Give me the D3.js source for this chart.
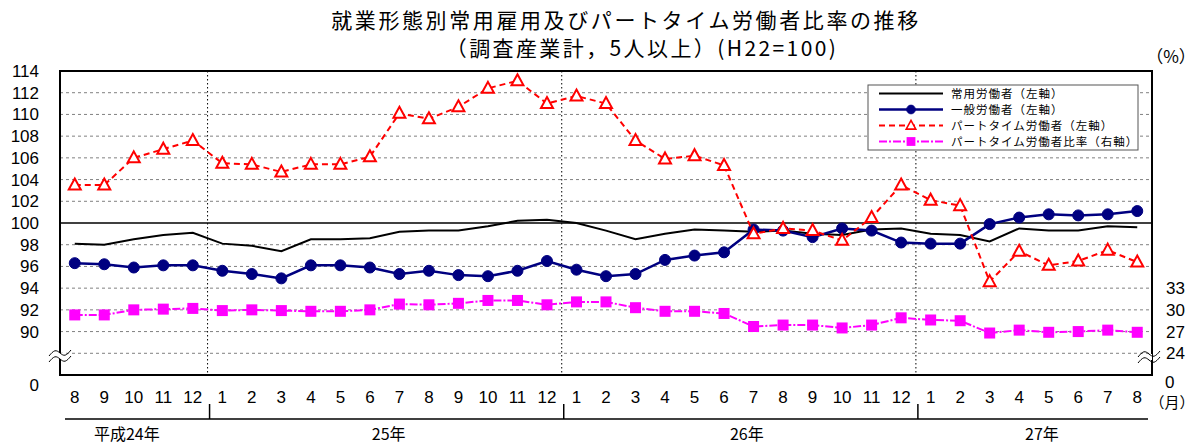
<!DOCTYPE html>
<html>
<head>
<meta charset="utf-8">
<script src="https://cdn.jsdelivr.net/npm/d3@7"></script>
<style>
  body { margin: 0; background: #fff; }
  text { font-family: "Liberation Sans", Arial, sans-serif; }
  .jp { font-family: "Noto Sans CJK JP", sans-serif; }
</style>
</head>
<body>
<div id="chart"></div>
<script>
// month tick labels, Aug 2012 (H24) .. Aug 2015 (H27)
const monthLabels = ["8","9","10","11","12",
  "1","2","3","4","5","6","7","8","9","10","11","12",
  "1","2","3","4","5","6","7","8","9","10","11","12",
  "1","2","3","4","5","6","7","8"];
const yearLabels = ["平成24年", "25年", "26年", "27年"];
const yearStarts = [0, 5, 17, 29];

// left axis (H22=100)
const regular = [98.1, 98.0, 98.5, 98.9, 99.1,
  98.1, 97.9, 97.4, 98.5, 98.5, 98.6, 99.2, 99.3, 99.3, 99.7, 100.2, 100.3,
  100.0, 99.3, 98.5, 99.0, 99.4, 99.3, 99.2, 99.3, 99.0, 98.9, 99.4, 99.5,
  99.0, 98.9, 98.3, 99.5, 99.3, 99.3, 99.7, 99.6];
const general = [96.3, 96.2, 95.9, 96.1, 96.1,
  95.6, 95.3, 94.9, 96.1, 96.1, 95.9, 95.3, 95.6, 95.2, 95.1, 95.6, 96.5,
  95.7, 95.1, 95.3, 96.6, 97.0, 97.3, 99.4, 99.3, 98.7, 99.5, 99.3, 98.2,
  98.1, 98.1, 99.9, 100.5, 100.8, 100.7, 100.8, 101.1];
const partTime = [103.5, 103.5, 106.0, 106.8, 107.6,
  105.5, 105.4, 104.7, 105.4, 105.4, 106.1, 110.1, 109.6, 110.7, 112.4, 113.1, 111.0,
  111.7, 111.0, 107.6, 105.9, 106.2, 105.3, 99.0, 99.5, 99.3, 98.4, 100.5, 103.5,
  102.1, 101.6, 94.6, 97.4, 96.1, 96.5, 97.5, 96.4];
// right axis (%)
const partRatio = [29.3, 29.3, 30.0, 30.1, 30.2,
  29.9, 30.0, 29.9, 29.8, 29.8, 30.0, 30.8, 30.7, 30.9, 31.3, 31.3, 30.7,
  31.1, 31.1, 30.3, 29.8, 29.8, 29.5, 27.7, 27.9, 27.9, 27.5, 27.9, 28.9,
  28.6, 28.5, 26.8, 27.2, 26.9, 27.0, 27.2, 26.9];

const leftTicks = [86, 90, 92, 94, 96, 98, 100, 102, 104, 106, 108, 110, 112, 114];
const rightTicks = [21, 24, 27, 30, 33];
const gridValues = [88, 90, 92, 94, 96, 98, 102, 104, 106, 108, 110, 112];

const W = 1196, H = 446;
const plot = { left: 60, right: 1152, top: 71, bottom: 375 };

const svg = d3.select("#chart").append("svg")
  .attr("width", W).attr("height", H);

const x = d3.scaleBand().domain(d3.range(monthLabels.length))
  .range([plot.left, plot.right]);
const xc = i => x(i) + x.bandwidth() / 2;
const y = d3.scaleLinear().domain([86, 114]).range([plot.bottom, plot.top]);
const y2 = d3.scaleLinear().domain([21, 63]).range([plot.bottom, plot.top]);

// title
svg.append("text").attr("class", "jp")
  .attr("x", 626).attr("y", 28).attr("text-anchor", "middle")
  .style("font-size", "21px").style("letter-spacing", "2.6px")
  .text("就業形態別常用雇用及びパートタイム労働者比率の推移");
svg.append("text").attr("class", "jp")
  .attr("x", 642).attr("y", 56).attr("text-anchor", "middle")
  .style("font-size", "21px").style("letter-spacing", "2.4px")
  .text("（調査産業計，5人以上）(H22=100)");
svg.append("text").attr("class", "jp")
  .attr("x", 1171).attr("y", 63).attr("text-anchor", "middle")
  .style("font-size", "17px").text("（%）");

// gridlines
svg.append("g").selectAll("line").data(gridValues).join("line")
  .attr("x1", plot.left).attr("x2", plot.right)
  .attr("y1", d => y(d)).attr("y2", d => y(d))
  .attr("stroke", "#808080").attr("stroke-dasharray", "3,3");
svg.append("line")
  .attr("x1", plot.left).attr("x2", plot.right)
  .attr("y1", y(100)).attr("y2", y(100))
  .attr("stroke", "#000").attr("stroke-width", 1.3);

// year separators
svg.append("g").selectAll("line").data(yearStarts.slice(1)).join("line")
  .attr("x1", d => x(d)).attr("x2", d => x(d))
  .attr("y1", plot.top).attr("y2", plot.bottom)
  .attr("stroke", "#000").attr("stroke-dasharray", "1.5,2.5");

// frame
svg.append("rect")
  .attr("x", plot.left).attr("y", plot.top)
  .attr("width", plot.right - plot.left).attr("height", plot.bottom - plot.top)
  .attr("fill", "none").attr("stroke", "#000").attr("stroke-width", 2);

// left axis
const la = svg.append("g").attr("transform", `translate(${plot.left},0)`)
  .call(d3.axisLeft(y).tickValues(leftTicks).tickSize(0).tickPadding(21)
    .tickFormat(d => d === 86 ? "0" : d));
la.select(".domain").remove();
la.selectAll("text").style("font-size", "17px").attr("fill", "#000")
  .attr("font-family", null)
  .filter(d => d === 86).attr("dy", "0.9em");

// right axis
const ra = svg.append("g").attr("transform", `translate(${plot.right},0)`)
  .call(d3.axisRight(y2).tickValues(rightTicks).tickSize(0).tickPadding(14)
    .tickFormat(d => d === 21 ? "0" : d));
ra.select(".domain").remove();
ra.selectAll("text").style("font-size", "17px").attr("fill", "#000")
  .attr("font-family", null)
  .filter(d => d === 21).attr("dy", "0.75em").attr("x", 13);

// axis break marks
function breakMark(cx, cy) {
  const g = svg.append("g");
  const wave = d3.line().curve(d3.curveBasis);
  const pts = off => [[cx - 11, cy + 3 + off], [cx - 5, cy - 4 + off], [cx, cy + off], [cx + 5, cy + 4 + off], [cx + 11, cy - 3 + off]];
  g.append("rect").attr("x", cx - 3).attr("y", cy - 3).attr("width", 6).attr("height", 6).attr("fill", "#fff");
  g.append("path").attr("d", wave(pts(-3))).attr("fill", "none").attr("stroke", "#000").attr("stroke-width", 1);
  g.append("path").attr("d", wave(pts(3))).attr("fill", "none").attr("stroke", "#000").attr("stroke-width", 1);
}
breakMark(plot.left, 356);
breakMark(plot.right - 3, 357);

// x axis labels
svg.append("g").selectAll("text").data(monthLabels).join("text")
  .attr("x", (d, i) => xc(i)).attr("y", 403)
  .attr("text-anchor", "middle").style("font-size", "17px")
  .text(d => d);
svg.append("text").attr("class", "jp")
  .attr("x", 1172).attr("y", 408).attr("text-anchor", "middle")
  .style("font-size", "15px").text("（月）");

svg.append("line")
  .attr("x1", 65).attr("x2", 1148).attr("y1", 419).attr("y2", 419)
  .attr("stroke", "#000").attr("stroke-width", 1.5);
svg.append("g").selectAll("line").data(yearStarts.slice(1)).join("line")
  .attr("x1", d => x(d) + 2).attr("x2", d => x(d) + 2)
  .attr("y1", 404).attr("y2", 419)
  .attr("stroke", "#000").attr("stroke-width", 1.5);

const yearEnds = yearStarts.slice(1).concat([monthLabels.length]);
svg.append("g").selectAll("text").data(yearLabels).join("text")
  .attr("class", "jp")
  .attr("x", (d, i) => (x(yearStarts[i]) + x(yearEnds[i] - 1) + x.bandwidth()) / 2 + (i === 0 ? -7 : i === 1 ? 4 : 8))
  .attr("y", 440).attr("text-anchor", "middle")
  .style("font-size", "16px")
  .text(d => d);

// series
const series = [
  { key: "常用労働者（左軸）", values: regular, scale: y, color: "#000", width: 2, dash: null, marker: null },
  { key: "一般労働者（左軸）", values: general, scale: y, color: "#000080", width: 2.5, dash: null, marker: "circle" },
  { key: "パートタイム労働者（左軸）", values: partTime, scale: y, color: "#ff0000", width: 2, dash: "6,4", marker: "triangle" },
  { key: "パートタイム労働者比率（右軸）", values: partRatio, scale: y2, color: "#ff00ff", width: 2, dash: "8,2,2,2", marker: "square" }
];

function drawMarker(g, type, color) {
  if (type === "circle") {
    g.append("circle").attr("r", 5.5).attr("fill", color).attr("stroke", color);
  } else if (type === "triangle") {
    g.append("path").attr("d", "M0,-6.5L6,4.5L-6,4.5Z")
      .attr("fill", "#fff").attr("stroke", color).attr("stroke-width", 2);
  } else if (type === "square") {
    g.append("rect").attr("x", -5.5).attr("y", -5.5).attr("width", 11).attr("height", 11)
      .attr("fill", color);
  }
}

const drawOrder = [3, 0, 1, 2];
drawOrder.forEach(k => {
  const s = series[k];
  const line = d3.line().x((d, i) => xc(i)).y(d => s.scale(d));
  svg.append("path").datum(s.values)
    .attr("d", line).attr("fill", "none")
    .attr("stroke", s.color).attr("stroke-width", s.width)
    .attr("stroke-dasharray", s.dash);
  if (s.marker) {
    svg.append("g").selectAll("g").data(s.values).join("g")
      .attr("transform", (d, i) => `translate(${xc(i)},${s.scale(d)})`)
      .each(function () { drawMarker(d3.select(this), s.marker, s.color); });
  }
});

// legend
const legend = svg.append("g").attr("transform", "translate(868,85)");
legend.append("rect").attr("width", 270).attr("height", 65)
  .attr("fill", "#fff").attr("stroke", "#555").attr("stroke-width", 1);
const lk = legend.selectAll(".lk").data(series).join("g")
  .attr("class", "lk")
  .attr("transform", (d, i) => `translate(0,${8.5 + i * 16})`);
lk.append("line").attr("x1", 11).attr("x2", 75)
  .attr("stroke", d => d.color).attr("stroke-width", d => d.width)
  .attr("stroke-dasharray", d => d.dash);
lk.each(function (d) {
  if (d.marker) {
    const m = d3.select(this).append("g").attr("transform", "translate(43,0) scale(0.8)");
    drawMarker(m, d.marker, d.color);
  }
});
lk.append("text").attr("class", "jp")
  .attr("x", 83).attr("y", 0).attr("dy", "0.35em")
  .style("font-size", "11.5px").style("letter-spacing", "1px")
  .text(d => d.key);
</script>
</body>
</html>
